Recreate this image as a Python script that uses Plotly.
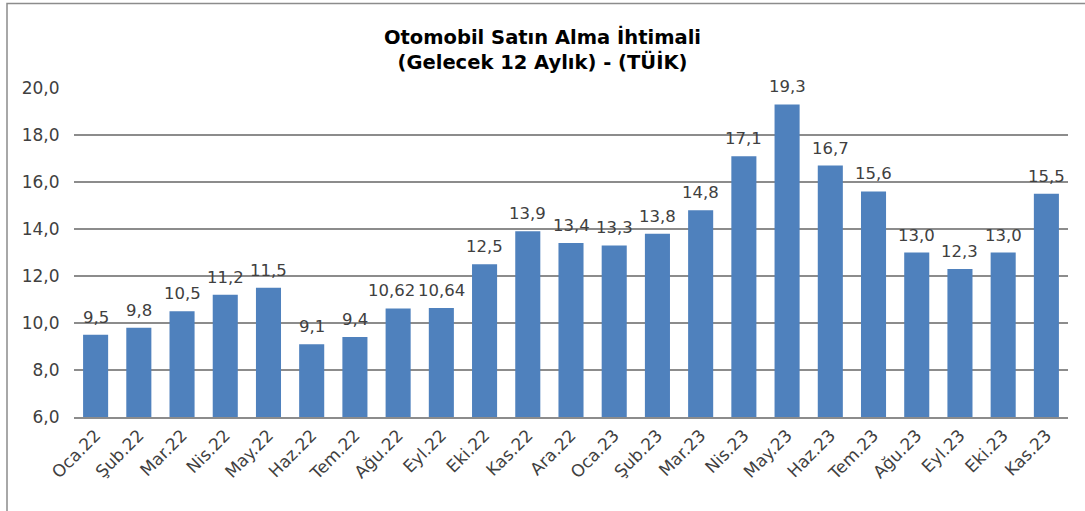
import plotly.graph_objects as go

categories = ["Oca.22", "Şub.22", "Mar.22", "Nis.22", "May.22", "Haz.22", "Tem.22", "Ağu.22",
              "Eyl.22", "Eki.22", "Kas.22", "Ara.22", "Oca.23", "Şub.23", "Mar.23", "Nis.23",
              "May.23", "Haz.23", "Tem.23", "Ağu.23", "Eyl.23", "Eki.23", "Kas.23"]
values = [9.5, 9.8, 10.5, 11.2, 11.5, 9.1, 9.4, 10.62, 10.64, 12.5, 13.9, 13.4, 13.3, 13.8,
          14.8, 17.1, 19.3, 16.7, 15.6, 13.0, 12.3, 13.0, 15.5]
labels = ["9,5", "9,8", "10,5", "11,2", "11,5", "9,1", "9,4", "10,62", "10,64", "12,5", "13,9",
          "13,4", "13,3", "13,8", "14,8", "17,1", "19,3", "16,7", "15,6", "13,0", "12,3", "13,0", "15,5"]
tick_vals = [6, 8, 10, 12, 14, 16, 18, 20]

FONT = "'DejaVu Sans', sans-serif"
W, H = 1085, 511
L, R, T, B = 74, 17, 88, 94
pw, ph = W - L - R, H - T - B

# small horizontal nudges for crowded labels (as in the reference)
label_nudge = {"Ağu.22": -7}

fig = go.Figure(go.Bar(
    x=categories, y=values,
    marker=dict(color="#4F81BD", line=dict(width=0)),
))

annotations = [
    dict(x=c, y=v, text=t, showarrow=False, xref="x", yref="y",
         yanchor="bottom", xanchor="center", yshift=6, xshift=label_nudge.get(c, 0),
         font=dict(family=FONT, size=16.5, color="#404040"))
    for c, v, t in zip(categories, values, labels)
]

fig.update_layout(
    width=W, height=H,
    margin=dict(l=L, r=R, t=T, b=B, autoexpand=False),
    paper_bgcolor="white", plot_bgcolor="white",
    bargap=0.42,
    separators=",.",
    showlegend=False,
    annotations=annotations,
    title=dict(text="<b>Otomobil Satın Alma İhtimali<br>(Gelecek 12 Aylık) - (TÜİK)</b>",
               x=0.5, xanchor="center", xref="container", yref="container",
               y=1 - 44 / H, yanchor="top",
               font=dict(family=FONT, size=19.5, color="black")),
    font=dict(family=FONT, color="#404040"),
    shapes=[dict(type="rect", xref="paper", yref="paper",
                 x0=-(L - 7) / pw, x1=1 + (R + 20) / pw, y0=-(B + 20) / ph, y1=1 + (T - 3.5) / ph,
                 line=dict(color="#8c8c8c", width=1.5), fillcolor="rgba(0,0,0,0)")],
)
fig.update_xaxes(tickangle=-45, tickfont=dict(size=17, color="#404040"), automargin=False,
                 showline=True, linecolor="#8c8c8c", linewidth=1.5, ticks="",
                 showgrid=False)
fig.update_yaxes(range=[6, 20], tickvals=tick_vals, tickformat=".1f", automargin=False,
                 tickfont=dict(size=17, color="#404040"),
                 showgrid=True, gridcolor="#8c8c8c", gridwidth=1.5,
                 zeroline=False, showline=False, ticks="outside", ticklen=10,
                 tickcolor="white")

fig.write_html("out.html", config={"displayModeBar": False},
               post_script="document.body.style.margin='0';")
